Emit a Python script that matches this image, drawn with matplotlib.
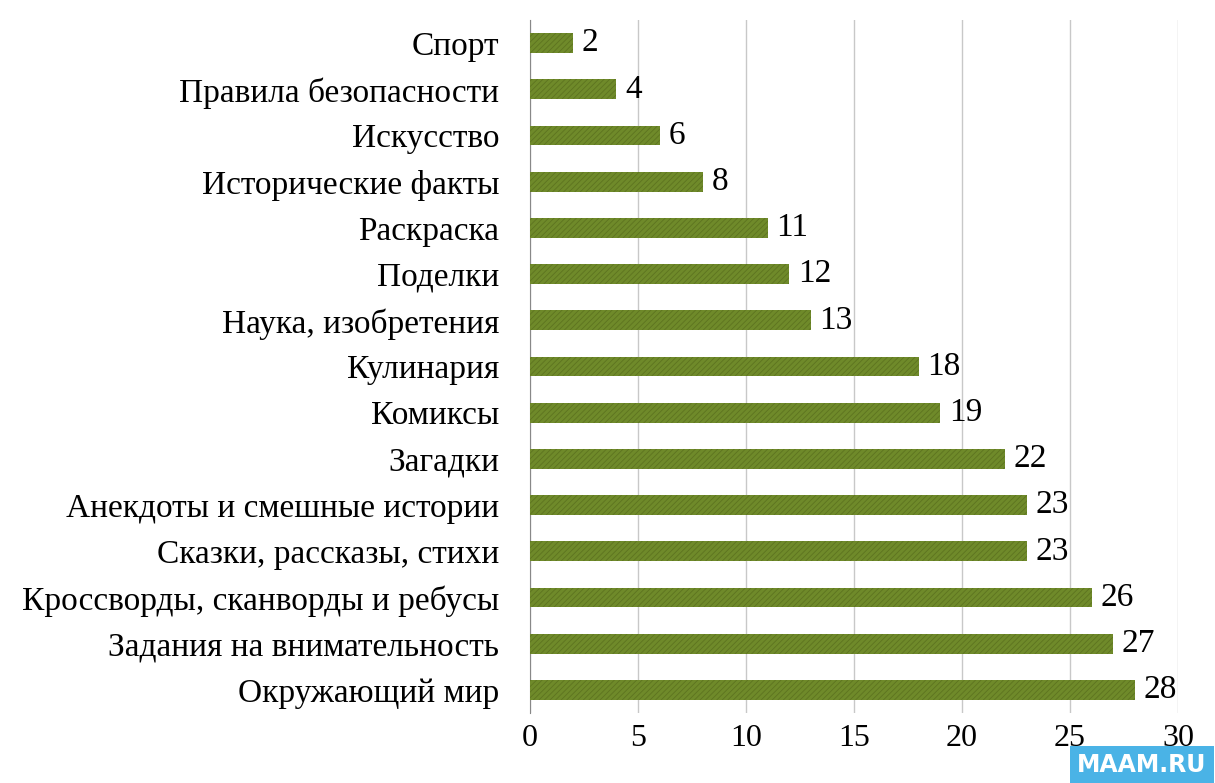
import matplotlib.pyplot as plt

categories = ["Спорт", "Правила безопасности", "Искусство", "Исторические факты",
              "Раскраска", "Поделки", "Наука, изобретения", "Кулинария", "Комиксы",
              "Загадки", "Анекдоты и смешные истории", "Сказки, рассказы, стихи",
              "Кроссворды, сканворды и ребусы", "Задания на внимательность",
              "Окружающий мир"]
values = [2, 4, 6, 8, 11, 12, 13, 18, 19, 22, 23, 23, 26, 27, 28]
xticks = [0, 5, 10, 15, 20, 25, 30]

plt.rcParams["font.family"] = "Liberation Serif"
plt.rcParams["hatch.color"] = "#4f5e17"
plt.rcParams["hatch.linewidth"] = 0.6

fig = plt.figure(figsize=(12.15, 7.83), dpi=100)
ax = fig.add_axes([530 / 1215, 1 - 713 / 783, 648 / 1215, 693 / 783])

y = list(range(len(categories)))
ax.barh(y, values, height=0.43, color="#6f8a2a", hatch="//////", edgecolor="#5d7320",
        linewidth=0, zorder=3)
for yi, v in zip(y, values):
    ax.text(v + 0.4, yi, str(v), va="center", ha="left", fontsize=24, zorder=4)

ax.set_ylim(len(categories) - 0.5, -0.5)
ax.set_xlim(0, 30)
ax.set_yticks(y)
ax.set_yticklabels(categories, fontsize=24)
ax.set_xticks(xticks)
ax.set_xticklabels([str(t) for t in xticks], fontsize=23)
ax.xaxis.grid(True, color="#c8c8c8", linewidth=1, zorder=0)
for s in ["top", "right", "bottom"]:
    ax.spines[s].set_visible(False)
ax.spines["left"].set_color("#888888")
ax.tick_params(axis="y", length=0, pad=22)
ax.tick_params(axis="x", length=0, pad=8)

fig.text(0.993, 0.008, "MAAM.RU", ha="right", va="bottom", fontsize=17, color="white",
         fontweight="bold", family="DejaVu Sans",
         bbox=dict(boxstyle="square,pad=0.3", fc="#4ab3e6", ec="none"))

fig.savefig("out.png", dpi=100)
